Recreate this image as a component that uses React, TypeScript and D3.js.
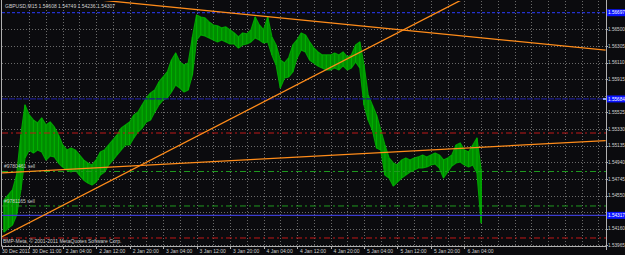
import React from 'react';
import * as d3 from 'd3';

const W = 625;
const H = 255;

const titleText = 'GBPUSD,M15  1.54608  1.54749  1.54236  1.54307';
const copyrightText = 'BMP-Meta, © 2001-2011 MetaQuotes Software Corp.';

const timeLabels = [
  '30 Dec 2011', '30 Dec 11:00', '2 Jan 04:00', '2 Jan 12:00', '2 Jan 20:00',
  '3 Jan 04:00', '3 Jan 12:00', '3 Jan 20:00', '4 Jan 04:00', '4 Jan 12:00',
  '4 Jan 20:00', '5 Jan 04:00', '5 Jan 12:00', '5 Jan 20:00', '6 Jan 04:00',
];
const timeLabelBars = [0, 26, 58, 90, 122, 154, 186, 218, 250, 282, 314, 346, 378, 410, 442];

const priceTicks = [
  1.565, 1.56305, 1.5611, 1.55915, 1.5572, 1.55525, 1.5533, 1.55135,
  1.5494, 1.54745, 1.5455, 1.54355, 1.5416, 1.53965,
];

// GBPUSD M15, high / low of each group of 4 bars
const highs = [
  1.54498, 1.54556, 1.54615, 1.54791, 1.55261, 1.55614, 1.55496, 1.55437, 1.55402, 1.55461,
  1.55379, 1.55414, 1.55355, 1.55261, 1.55144, 1.55085, 1.55108, 1.55085, 1.55026, 1.54967,
  1.54932, 1.54909, 1.54967, 1.55061, 1.55085, 1.55144, 1.55202, 1.55261, 1.55343, 1.55379,
  1.55414, 1.55496, 1.55531, 1.55614, 1.55696, 1.55755, 1.5579, 1.55884, 1.55942, 1.56001,
  1.56142, 1.56224, 1.56119, 1.56083, 1.56107, 1.56412, 1.56671, 1.56647, 1.56636, 1.56589,
  1.56553, 1.56542, 1.56518, 1.5653, 1.56495, 1.56459, 1.56412, 1.56459, 1.56448, 1.56495,
  1.56647, 1.56553, 1.56495, 1.56647, 1.56412, 1.56318, 1.56142, 1.56107, 1.56166, 1.56318,
  1.56377, 1.56459, 1.56436, 1.56354, 1.56283, 1.56236, 1.56201, 1.56201, 1.56201, 1.56224,
  1.56201, 1.56236, 1.56177, 1.56201, 1.56318, 1.56354, 1.56083, 1.55731, 1.55614, 1.55496,
  1.5532, 1.55144, 1.54991, 1.54932, 1.54909, 1.54967, 1.54991, 1.54967, 1.54991, 1.55003,
  1.55026, 1.55003, 1.55026, 1.5505, 1.55026, 1.54967, 1.54991, 1.55026, 1.55144, 1.55167,
  1.55085, 1.55061, 1.55144, 1.55226, 1.5485,
];
const lows = [
  1.54122, 1.54169, 1.54204, 1.54321, 1.54615, 1.54991, 1.55085, 1.5505, 1.55085, 1.55061,
  1.54967, 1.55014, 1.55003, 1.54932, 1.54885, 1.5485, 1.54827, 1.5485, 1.54791, 1.54733,
  1.54697, 1.54674, 1.54709, 1.54791, 1.54827, 1.54909, 1.54967, 1.55026, 1.55085, 1.55144,
  1.55144, 1.55226, 1.55296, 1.55343, 1.55414, 1.55437, 1.55531, 1.55614, 1.55672, 1.55696,
  1.55766, 1.55849, 1.55813, 1.55766, 1.5579, 1.55966, 1.56377, 1.56436, 1.56424, 1.56401,
  1.56377, 1.56354, 1.56377, 1.56354, 1.5633, 1.5633, 1.56283, 1.56318, 1.5633, 1.56354,
  1.56401, 1.56377, 1.56342, 1.56354, 1.56201, 1.56083, 1.55813, 1.55931, 1.55942, 1.56001,
  1.56166, 1.5626, 1.56236, 1.56142, 1.56107, 1.56072, 1.56048, 1.56025, 1.56025, 1.56048,
  1.56025, 1.56072, 1.56025, 1.56048, 1.56119, 1.56048, 1.55614, 1.55437, 1.5532, 1.55108,
  1.55085, 1.54791, 1.54756, 1.54662, 1.54709, 1.54756, 1.54791, 1.54827, 1.5485, 1.54874,
  1.54874, 1.54885, 1.54909, 1.5492, 1.54874, 1.54756, 1.54827, 1.54897, 1.54932, 1.54944,
  1.54909, 1.54885, 1.54909, 1.54815, 1.54227,
];
const barsPerSample = 4;

// trend lines: [startBar, startPrice, endBar, endPrice]
const trendLines: [number, number, number, number][] = [
  [0, 1.5696, 577, 1.56258],
  [0, 1.54066, 476, 1.5708],
  [0, 1.54816, 577, 1.55195],
];

const blueLevels = [1.56697, 1.55684, 1.54317];
const stopLevels = [1.55284, 1.54051];
const orderLevels = [1.54832, 1.54427];
const orderLabels = ['#9780461 sell', '#9781165 sell'];

const FONT = 'Liberation Sans, Arial, sans-serif';

export default function App() {
  const plotL = 2;
  const plotR = 606;
  const plotT = 1;
  const plotB = 246;

  const x = d3.scaleLinear().domain([0, 577]).range([2, 2 + 577 * 1.0462]);
  const y = d3.scaleLinear().domain([1.53957, 1.56811]).range([246, 3]);

  const gridBars = d3.range(26, 577, 16);
  const sampleBar = (i: number) => 2 + i * barsPerSample;

  const blueStyles = [
    { stroke: '#2b3cff', dash: '3,2', w: 1 },
    { stroke: '#1c1c8c', dash: '6,1', w: 1.2 },
    { stroke: '#3c3ccc', dash: undefined, w: 1.3 },
  ];

  const line = d3.line<[number, number]>().x((d) => x(d[0])).y((d) => y(d[1]));
  const band = d3
    .area<number>()
    .x((_, i) => x(sampleBar(i)))
    .y0((_, i) => y(lows[i]))
    .y1((h) => y(h))
    .curve(d3.curveLinear);

  const visibleTicks = priceTicks.filter((p) => blueLevels.every((b) => Math.abs(y(b) - y(p)) > 6));

  return (
    <svg width={W} height={H} style={{ position: 'fixed', left: 0, top: 0, display: 'block' }}>
      <defs>
        <clipPath id="plot">
          <rect x={plotL} y={plotT} width={plotR - plotL} height={plotB - plotT} />
        </clipPath>
      </defs>
      <rect x={0} y={0} width={W} height={H} fill="#0b0b0e" />

      <g clipPath="url(#plot)">
        {/* grid */}
        {priceTicks.map((p, i) => (
          <line key={'hg' + i} x1={plotL} x2={plotR} y1={Math.round(y(p)) + 0.5} y2={Math.round(y(p)) + 0.5}
            stroke="#6a6a6a" strokeWidth={1} strokeDasharray="1,2" />
        ))}
        {gridBars.map((b, i) => (
          <line key={'vg' + i} x1={Math.round(x(b)) + 0.5} x2={Math.round(x(b)) + 0.5} y1={plotT} y2={plotB}
            stroke="#6a6a6a" strokeWidth={1} strokeDasharray="1,2" />
        ))}

        {/* price bars */}
        <path d={band(highs) || ''} fill="#008c00" stroke="#00a000" strokeWidth={1.2} strokeLinejoin="round" />
        {highs.map((h, i) => (
          <line key={'b' + i} x1={x(sampleBar(i))} x2={x(sampleBar(i))} y1={y(h)} y2={y(lows[i])}
            stroke="#00b000" strokeWidth={1.1} />
        ))}

        {/* stop levels */}
        {stopLevels.map((p, i) => (
          <line key={'s' + i} x1={plotL} x2={plotR} y1={y(p)} y2={y(p)}
            stroke="#c01818" strokeWidth={1} strokeDasharray="6,3,2,3" />
        ))}
        {/* order levels */}
        {orderLevels.map((p, i) => (
          <line key={'o' + i} x1={plotL} x2={plotR} y1={y(p)} y2={y(p)}
            stroke="#1f9a1f" strokeWidth={1} strokeDasharray="6,3,2,3" />
        ))}
        {/* blue levels */}
        {blueLevels.map((p, i) => (
          <line key={'bl' + i} x1={plotL} x2={plotR} y1={y(p)} y2={y(p)}
            stroke={blueStyles[i].stroke} strokeWidth={blueStyles[i].w} strokeDasharray={blueStyles[i].dash} />
        ))}

        {/* trend lines */}
        {trendLines.map((t, i) => (
          <path key={'t' + i} d={line([[t[0], t[1]], [t[2], t[3]]]) || ''} stroke="#ff8c1a" strokeWidth={1.3} fill="none" />
        ))}

        {orderLevels.map((p, i) => (
          <text key={'ol' + i} x={4} y={y(p) - 3} fontSize={5} fontFamily={FONT} fill="#c8c8c8">
            {orderLabels[i]}
          </text>
        ))}
      </g>

      {/* title & copyright */}
      <text x={5} y={8} fontSize={5} fontFamily={FONT} fill="#d0d0d0">{titleText}</text>
      <text x={3} y={243} fontSize={5} fontFamily={FONT} fill="#d0d0d0">{copyrightText}</text>

      {/* frame */}
      <line x1={plotL - 0.5} x2={plotL - 0.5} y1={0} y2={plotB} stroke="#b0b0b0" />
      <line x1={plotR + 0.5} x2={plotR + 0.5} y1={0} y2={plotB + 4} stroke="#b0b0b0" />
      <line x1={plotL - 0.5} x2={plotR + 0.5} y1={plotB + 0.5} y2={plotB + 0.5} stroke="#b0b0b0" />

      {/* price axis */}
      {priceTicks.map((p, i) => (
        <line key={'pt' + i} x1={plotR} x2={plotR + 2} y1={Math.round(y(p)) + 0.5} y2={Math.round(y(p)) + 0.5} stroke="#b0b0b0" />
      ))}
      {visibleTicks.map((p, i) => (
        <text key={'pl' + i} x={608} y={y(p) + 1.7} fontSize={4.7} fontFamily={FONT} fill="#d0d0d0">{p.toFixed(5)}</text>
      ))}
      {blueLevels.map((p, i) => (
        <g key={'bb' + i}>
          <rect x={607} y={y(p) - 3.5} width={18} height={7} fill="#0a14ff" />
          <text x={608} y={y(p) + 1.7} fontSize={4.7} fontFamily={FONT} fill="#ffffff">{p.toFixed(5)}</text>
        </g>
      ))}
      <rect x={603} y={y(blueLevels[1]) - 1} width={3} height={2} fill="#8fa0ff" />

      {/* time axis */}
      {timeLabelBars.map((b, i) => (
        <g key={'tl' + i}>
          <line x1={Math.round(x(b)) + 0.5} x2={Math.round(x(b)) + 0.5} y1={plotB} y2={plotB + 3} stroke="#b0b0b0" />
          <text x={i === 0 ? 2 : x(b) + 3} y={252.5} fontSize={5} fontFamily={FONT} fill="#d0d0d0">{timeLabels[i]}</text>
        </g>
      ))}
    </svg>
  );
}
